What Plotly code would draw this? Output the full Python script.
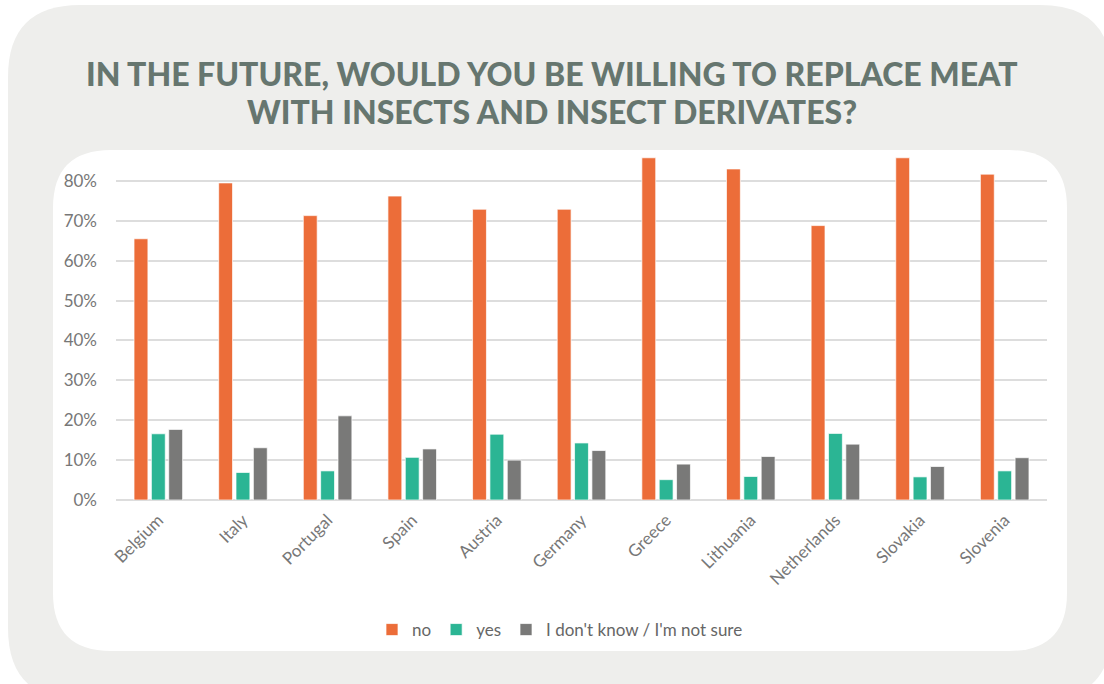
import plotly.graph_objects as go

countries = ["Belgium", "Italy", "Portugal", "Spain", "Austria", "Germany",
             "Greece", "Lithuania", "Netherlands", "Slovakia", "Slovenia"]
no_vals = [0.655, 0.795, 0.713, 0.762, 0.729, 0.729, 0.858, 0.830, 0.688, 0.858, 0.817]
yes_vals = [0.166, 0.069, 0.073, 0.107, 0.165, 0.143, 0.051, 0.059, 0.167, 0.058, 0.073]
dk_vals = [0.177, 0.131, 0.211, 0.128, 0.100, 0.124, 0.090, 0.109, 0.140, 0.084, 0.106]
series_names = ["no", "yes", "I don't know / I'm not sure"]
colors = ["#EC6D39", "#2BB594", "#797978"]
y_ticks = [0, 0.1, 0.2, 0.3, 0.4, 0.5, 0.6, 0.7, 0.8]
title_lines = ["IN THE FUTURE, WOULD YOU BE WILLING TO REPLACE MEAT",
               "WITH INSECTS AND INSECT DERIVATES?"]

W, Hfig = 1104, 684
L, R, T, B = 116, 57, 151, 184
PW, PH = W - L - R, Hfig - T - B


def px2paper(x, y):
    return (x - L) / PW, (Hfig - B - y) / PH


def rounded_rect(x0, y0, x1, y1, r):
    def P(x, y):
        a, b = px2paper(x, y)
        return f"{a:.5f},{b:.5f}"
    d = f"M {P(x0 + r, y0)} L {P(x1 - r, y0)} Q {P(x1, y0)} {P(x1, y0 + r)} "
    d += f"L {P(x1, y1 - r)} Q {P(x1, y1)} {P(x1 - r, y1)} "
    d += f"L {P(x0 + r, y1)} Q {P(x0, y1)} {P(x0, y1 - r)} "
    d += f"L {P(x0, y0 + r)} Q {P(x0, y0)} {P(x0 + r, y0)} Z"
    return d


fig = go.Figure()
for name, vals, c in zip(series_names, [no_vals, yes_vals, dk_vals], colors):
    fig.add_trace(go.Bar(x=countries, y=vals, name=name, marker_color=c,
                         marker_line=dict(color="rgba(255,255,255,0.7)", width=1)))

fig.update_layout(
    width=W, height=Hfig,
    margin=dict(l=L, r=R, t=T, b=B),
    paper_bgcolor="white", plot_bgcolor="rgba(0,0,0,0)",
    barmode="group", bargap=0.385, bargroupgap=0.2,
    font=dict(family="Lato", color="#777777", size=15),
    legend=dict(orientation="h", x=(560 - L) / PW, xanchor="center",
                y=(Hfig - B - 630) / PH, yanchor="middle",
                font=dict(size=17, color="#666666"), traceorder="normal",
                bgcolor="rgba(0,0,0,0)"),
    showlegend=True,
)
for i, (line, yc) in enumerate(zip(title_lines, [71, 109])):
    fig.add_annotation(text=line, xref="paper", yref="paper",
                       x=px2paper(552, 0)[0], y=px2paper(0, yc + 2)[1],
                       xanchor="center", yanchor="middle", showarrow=False,
                       font=dict(family="Lato", size=32, color="#66766F", weight=900))

fig.update_yaxes(range=[0, 0.875], tickvals=y_ticks, tickformat=".0%",
                 showgrid=True, gridcolor="#DDDDDD", gridwidth=1.5,
                 zeroline=True, zerolinecolor="#DDDDDD", zerolinewidth=1.5,
                 showline=False, ticks="", ticklabelstandoff=18,
                 tickfont=dict(size=17, color="#777777"))
fig.update_xaxes(tickangle=-45, showgrid=False, showline=False, ticks="",
                 ticklabelstandoff=6, tickfont=dict(size=17, color="#777777"))

fig.add_shape(type="path", path=rounded_rect(8, 5, 1112, 700, 72), xref="paper", yref="paper",
              fillcolor="#EEEEEC", line=dict(width=0), layer="below")
fig.add_shape(type="path", path=rounded_rect(53, 150, 1067, 651, 58), xref="paper", yref="paper",
              fillcolor="#FFFFFF", line=dict(width=0), layer="below")

fig.write_html("out.html", config={"displayModeBar": False},
               post_script="document.body.style.margin='0px';")
